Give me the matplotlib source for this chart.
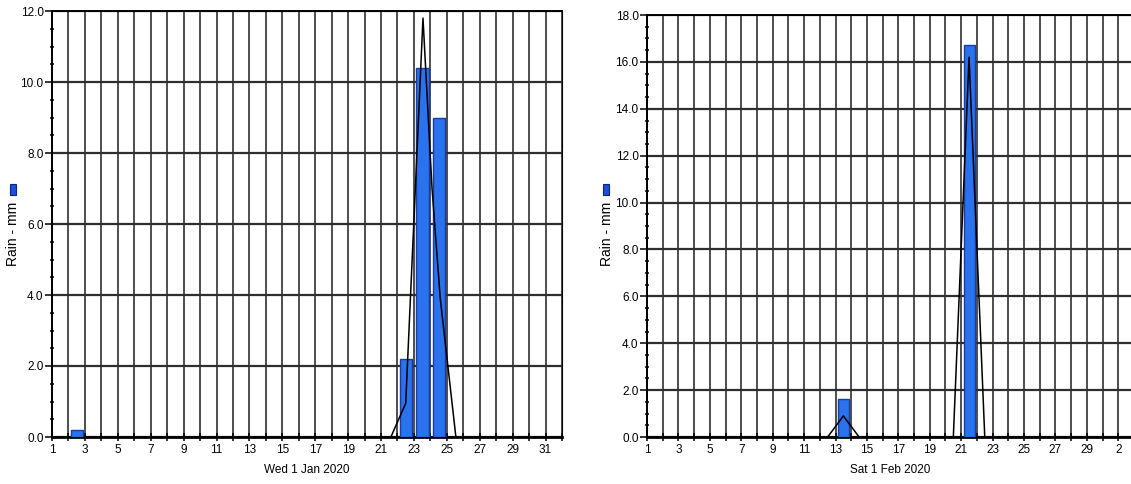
import numpy as np
import matplotlib.pyplot as plt
from matplotlib.patches import Rectangle
from matplotlib.ticker import MultipleLocator, FixedLocator, FormatStrFormatter

plt.rcParams['font.family'] = ['Liberation Sans Narrow', 'Liberation Sans', 'DejaVu Sans']

# daily rain totals (mm), bars sit in the middle of each day
jan_days = [2, 22, 23, 24]
jan_rain = [0.2, 2.2, 10.4, 9.0]
jan_line_x = [21.6, 22.5, 23.55, 24.1, 24.6, 25.55]
jan_line_y = [0.0, 0.95, 11.8, 7.0, 3.9, 0.0]

feb_days = [13, 21]
feb_rain = [1.6, 16.7]
feb_line_x = [12.5, 13.5, 14.5, 20.5, 21.5, 22.5]
feb_line_y = [0.0, 0.9, 0.0, 0.0, 16.2, 0.0]

jan_ticks = list(range(1, 32, 2))
jan_labels = [str(d) for d in jan_ticks]
feb_ticks = list(range(1, 32, 2))
feb_labels = [str(d) for d in range(1, 30, 2)] + ['2']


def draw(ax, days, rain, lx, ly, ymax, ticks, labels, xlabel):
    ax.bar(np.array(days) + 0.52, rain, width=0.74, color='#2a72ee',
           edgecolor='#1b3c9e', linewidth=1.0, zorder=3)
    ax.plot(lx, ly, color='black', lw=1.1, zorder=4)
    ax.set_xlim(1, 32)
    ax.set_ylim(0, ymax)
    ax.xaxis.set_major_locator(FixedLocator(ticks))
    ax.set_xticklabels(labels)
    ax.xaxis.set_minor_locator(MultipleLocator(1))
    ax.yaxis.set_major_locator(MultipleLocator(2))
    ax.yaxis.set_minor_locator(MultipleLocator(0.5))
    ax.yaxis.set_major_formatter(FormatStrFormatter('%.1f'))
    ax.grid(which='both', axis='x', color='#1e1e1e', lw=1.1, zorder=1)
    ax.grid(which='major', axis='y', color='#2e2e2e', lw=1.6, zorder=1)
    ax.set_axisbelow(True)
    ax.tick_params(axis='x', which='both', direction='inout', length=6,
                   width=1.1, labelsize=8.5, pad=2)
    ax.tick_params(axis='y', which='major', direction='out', length=5,
                   width=1.1, labelsize=8.5, pad=1)
    ax.tick_params(axis='y', which='minor', direction='inout', length=3, width=1.1)
    for side in ['left', 'top']:
        ax.spines[side].set_linewidth(1.4)
    ax.spines['bottom'].set_linewidth(2.0)
    ax.spines['right'].set_linewidth(0.8)
    ax.set_xlabel(xlabel, fontsize=8.5, labelpad=6)


fig = plt.figure(figsize=(11.31, 4.84), dpi=100)
ax1 = fig.add_axes([52 / 1131, 1 - 437 / 484, 510 / 1131, 426 / 484])
ax2 = fig.add_axes([647 / 1131, 1 - 437 / 484, 487 / 1131, 422 / 484])

draw(ax1, jan_days, jan_rain, jan_line_x, jan_line_y, 12, jan_ticks, jan_labels, 'Wed 1 Jan 2020')
draw(ax2, feb_days, feb_rain, feb_line_x, feb_line_y, 18, feb_ticks, feb_labels, 'Sat 1 Feb 2020')

# legend swatch and axis caption at the far left of each panel
for mx, tx in [(10, 13), (603, 607)]:
    fig.add_artist(Rectangle((mx / 1131, 1 - 195 / 484), 6 / 1131, 11 / 484,
                             transform=fig.transFigure, facecolor='#1c4fd6',
                             edgecolor='#0b2384', lw=0.8))
    fig.text(tx / 1131, 1 - 234 / 484, 'Rain - mm', rotation=90,
             ha='center', va='center', fontsize=10)

fig.savefig('out.png', dpi=100)
